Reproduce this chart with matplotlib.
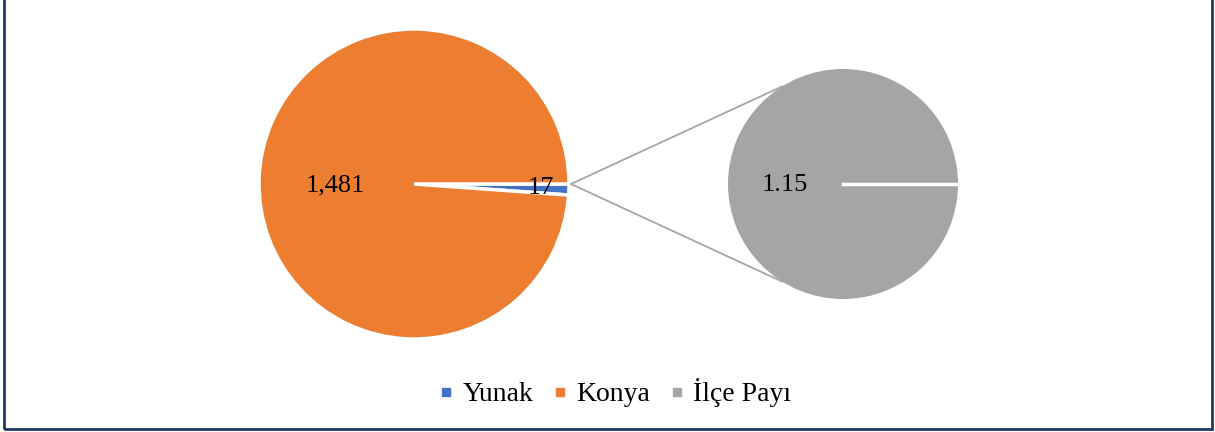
import numpy as np
import matplotlib.pyplot as plt
from matplotlib.lines import Line2D
from matplotlib.patches import Rectangle

# data
main_labels = ['Yunak', 'Konya']
main_values = [17, 1481]
sub_labels = ['İlçe Payı']
sub_values = [1.15]

renk = {'Yunak': '#4472C4', 'Konya': '#ED7D31', 'İlçe Payı': '#A5A5A5'}

plt.rcParams['font.family'] = ['Liberation Serif', 'DejaVu Serif']

W, H = 1215, 432
fig = plt.figure(figsize=(W / 100, H / 100), dpi=100)
ax = fig.add_axes([0, 0, 1, 1])

# ana pasta
c1 = (414, H - 184)
r1 = 155
ax.pie(main_values, colors=[renk[k] for k in main_labels], startangle=0,
       counterclock=False, center=c1, radius=r1,
       wedgeprops=dict(edgecolor='white', linewidth=2.5))

# ikinci pasta
c2 = (843, H - 184)
r2 = 115
ax.pie(sub_values, colors=[renk[k] for k in sub_labels], startangle=0,
       counterclock=False, center=c2, radius=r2,
       wedgeprops=dict(edgecolor='white', linewidth=0))
ax.plot([c2[0], c2[0] + r2], [c2[1], c2[1]], color='white', lw=2.5)

# baglanti cizgileri
tepe = (c1[0] + r1 + 2, c1[1])
for aci in (122, 238):
    a = np.deg2rad(aci)
    ax.plot([tepe[0], c2[0] + r2 * np.cos(a)], [tepe[1], c2[1] + r2 * np.sin(a)],
            color='#A5A5A5', lw=1.3)

# etiketler
fs = 19
ax.text(335, H - 185, f'{main_values[1]:,}', fontsize=fs, ha='center', va='center')
ax.text(541, H - 188, f'{main_values[0]}', fontsize=fs, ha='center', va='center')
ax.text(785, H - 185, f'{sub_values[0]:.2f}', fontsize=fs, ha='center', va='center')

# lejant
handles = [Line2D([], [], marker='s', ls='none', markersize=5.5,
                  color=renk[k]) for k in main_labels + sub_labels]
ax.legend(handles, main_labels + sub_labels, loc='center',
          bbox_to_anchor=(612 / W, 1 - 393 / H), ncol=3, frameon=False,
          fontsize=20, handletextpad=0.08, columnspacing=0.47, handlelength=1)

ax.set_xlim(0, W)
ax.set_ylim(0, H)
ax.set_aspect('auto')
ax.axis('off')

# cerceve (ust kenar gorunmuyor)
fig.patches.append(Rectangle((4 / W, 3 / H), 1 - 7 / W, 1,
                             transform=fig.transFigure, fill=False,
                             edgecolor='#1F3864', linewidth=2))

plt.savefig('out.png', dpi=100)
